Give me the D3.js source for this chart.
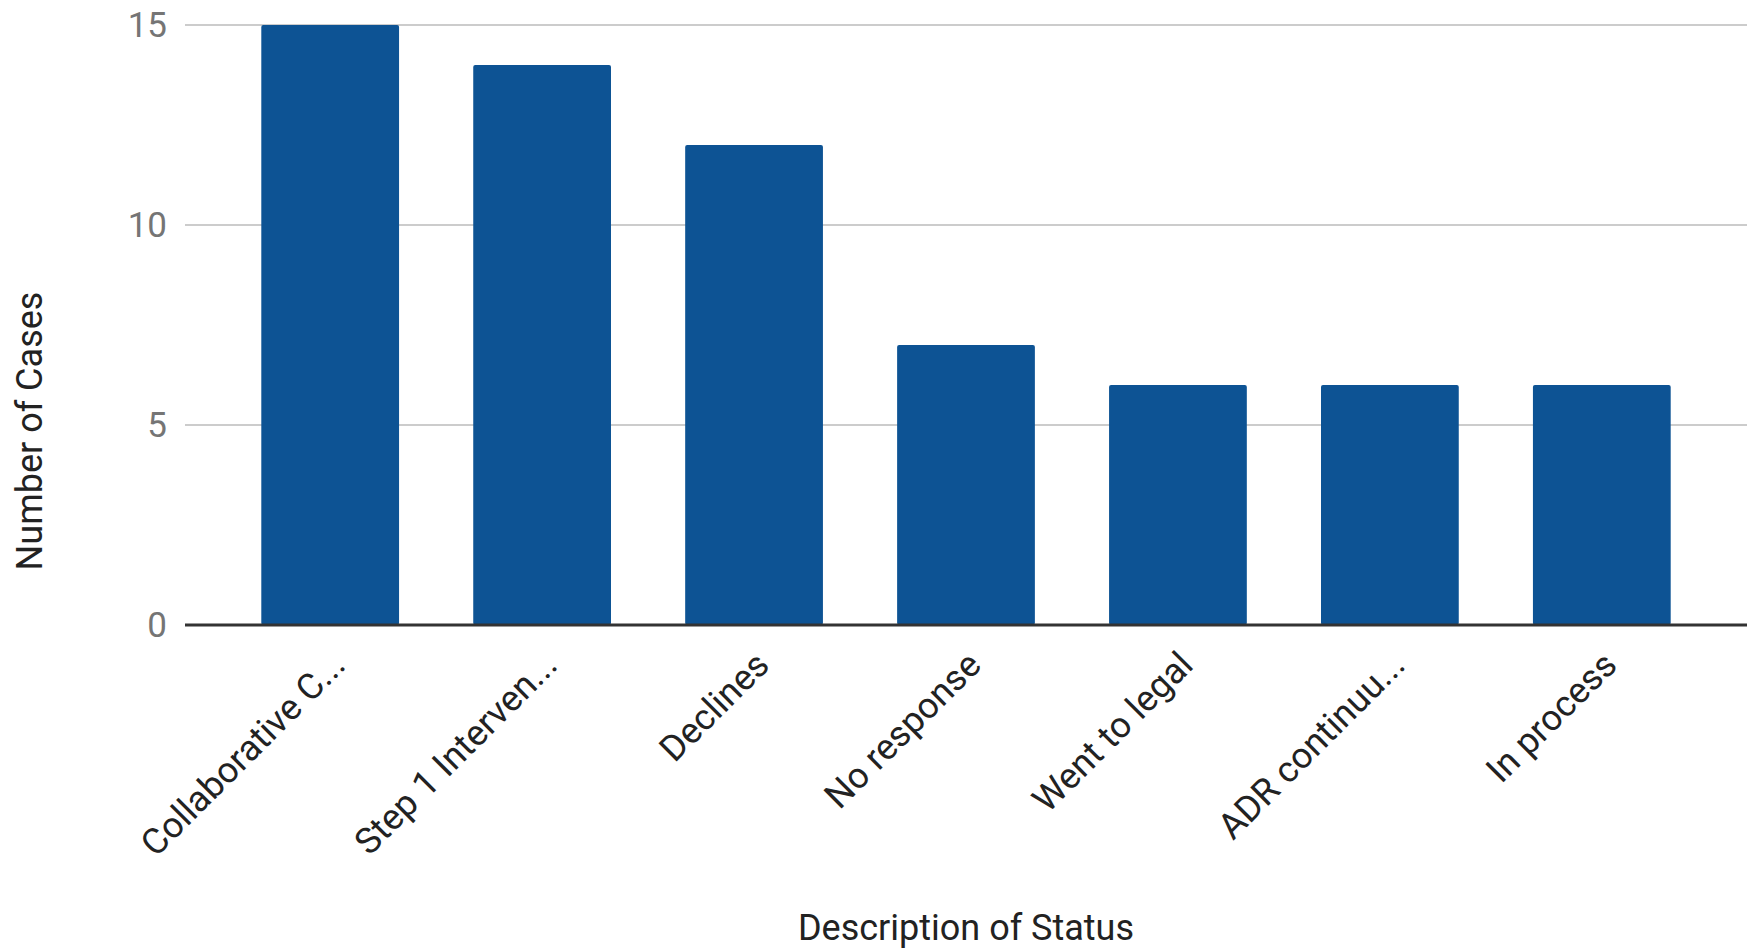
<!DOCTYPE html>
<html><head><meta charset="utf-8">
<script src="https://cdn.jsdelivr.net/npm/d3@7"></script>
<style>body{margin:0;background:#fff}svg{display:block}</style>
</head><body>
<script>
const categories = ["Collaborative C...", "Step 1 Interven...", "Declines", "No response", "Went to legal", "ADR continuu...", "In process"];
const values = [15, 14, 12, 7, 6, 6, 6];
const yTicks = [0, 5, 10, 15];
const xTitle = "Description of Status";
const yTitle = "Number of Cases";

(function () {
const W = 1756, H = 950;
const svg = d3.select("body").append("svg").attr("width", W).attr("height", H);
const mLeft = 185, mRight = 1747, mTop = 25, mBottom = 625;
const font = "Roboto, Arial, sans-serif";

const x = d3.scaleBand().domain(categories).range([mLeft, mRight]).paddingInner(0.35).paddingOuter(0.36);
const y = d3.scaleLinear().domain([0, 15]).range([mBottom, mTop]);

// gridlines
svg.append("g").selectAll("line").data(yTicks.filter(d => d > 0)).join("line")
  .attr("x1", mLeft).attr("x2", mRight).attr("y1", d => y(d)).attr("y2", d => y(d))
  .attr("stroke", "#cccccc").attr("stroke-width", 2);

// y tick labels
const yAxis = svg.append("g").attr("transform", `translate(${mLeft},0)`)
  .call(d3.axisLeft(y).tickValues(yTicks).tickSize(0).tickPadding(18));
yAxis.select(".domain").remove();
yAxis.selectAll("text").attr("font-family", font).attr("font-size", 35).attr("fill", "#757575");

// bars
svg.append("g").selectAll("rect").data(values).join("rect")
  .attr("x", (d, i) => x(categories[i])).attr("width", x.bandwidth())
  .attr("y", d => y(d)).attr("height", d => y(0) - y(d))
  .attr("rx", 2).attr("fill", "#0d5394");

// baseline
svg.append("line").attr("x1", mLeft).attr("x2", mRight).attr("y1", y(0)).attr("y2", y(0))
  .attr("stroke", "#333333").attr("stroke-width", 3);

// x labels
const xAxis = svg.append("g").attr("transform", `translate(0,${mBottom})`)
  .call(d3.axisBottom(x).tickSize(0).tickPadding(0));
xAxis.select(".domain").remove();
xAxis.selectAll("text")
  .attr("font-family", font).attr("font-size", 36).attr("fill", "#222222")
  .attr("text-anchor", "end").attr("dy", null).attr("y", null)
  .attr("transform", "translate(17,42) rotate(-45)");

// axis titles
svg.append("text").attr("x", (mLeft + mRight) / 2).attr("y", 940)
  .attr("text-anchor", "middle").attr("font-family", font).attr("font-size", 36).attr("fill", "#222222")
  .text(xTitle);
svg.append("text").attr("transform", "translate(42,431) rotate(-90)")
  .attr("text-anchor", "middle").attr("font-family", font).attr("font-size", 36).attr("fill", "#222222")
  .text(yTitle);
})();
</script>
</body></html>
